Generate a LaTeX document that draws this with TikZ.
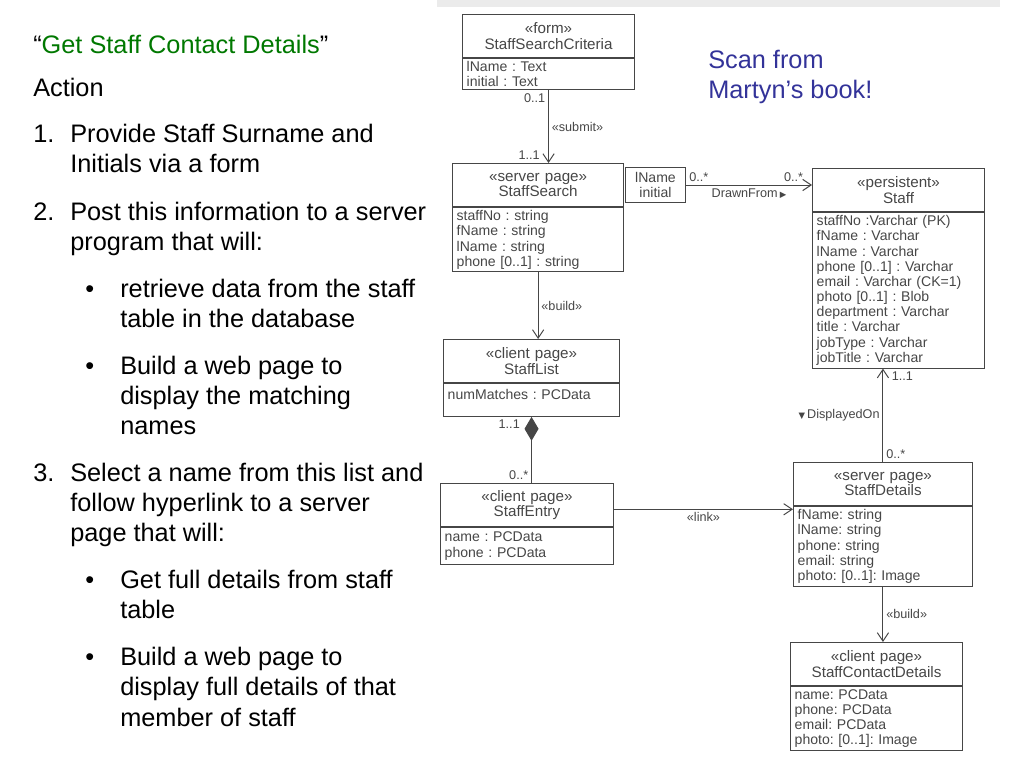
\documentclass[tikz,border=0pt]{standalone}
\usepackage{fontspec}
\setmainfont{Liberation Sans}
\newfontfamily\symf{DejaVu Sans}
\usetikzlibrary{arrows.meta}
\definecolor{titlegreen}{RGB}{0,120,0}
\definecolor{scanblue}{RGB}{51,51,153}
\definecolor{scanink}{RGB}{70,70,70}
\newcommand{\umlf}{\fontsize{10}{10.8}\selectfont\frenchspacing}
\newcommand{\umlhf}{\fontsize{10.8}{11}\selectfont\frenchspacing}
\newcommand{\bigf}{\fontsize{18}{21.6}\selectfont}

\begin{document}
\begin{tikzpicture}[x=0.025cm,y=-0.025cm,>={Straight Barb[length=6pt,width=8pt]},
  txt/.style={anchor=north west,align=left,inner sep=0pt,font=\bigf},
  hd/.style={draw=scanink,line width=0.7pt,anchor=north west,align=center,text width=#1,inner xsep=3pt,inner ysep=0pt,minimum height=1.08cm,text=scanink,font=\umlhf},
  at/.style={draw=scanink,line width=0.7pt,anchor=north,align=left,text width=#1,inner xsep=3pt,inner ysep=2pt,text=scanink,font=\umlf},
  lnk/.style={draw=scanink,line width=0.7pt},
  lbl/.style={font=\fontsize{9}{10}\selectfont,text=scanink,inner sep=2pt}]
\useasboundingbox (0,0) rectangle (1024,768);
\fill[black!8] (437,0) rectangle (1000,7);
% left column
\node[txt] (ttl) at (33,31.7) {\strut``\textcolor{titlegreen}{Get Staff Contact Details}''};
\node[txt] (act) at (33,74.7) {\strut Action};
\node[txt] (n1) at (33,120.7) {\strut 1.};
\node[txt] (i1) at (70,120.7) {\strut Provide Staff Surname and\\Initials via a form};
\node[txt] (n2) at (33,198.7) {\strut 2.};
\node[txt] (i2) at (70,198.7) {\strut Post this information to a server\\program that will:};
\node[txt] (d1) at (85,275.7) {\strut •};
\node[txt] (b1) at (120,275.7) {\strut retrieve data from the staff\\table in the database};
\node[txt] (d2) at (85,352.7) {\strut •};
\node[txt] (b2) at (120,352.7) {\strut Build a web page to\\display the matching\\names};
\node[txt] (n3) at (33,459.7) {\strut 3.};
\node[txt] (i3) at (70,459.7) {\strut Select a name from this list and\\follow hyperlink to a server\\page that will:};
\node[txt] (d3) at (85,566.7) {\strut •};
\node[txt] (b3) at (120,566.7) {\strut Get full details from staff\\table};
\node[txt] (d4) at (85,643.7) {\strut •};
\node[txt] (b4) at (120,643.7) {\strut Build a web page to\\display full details of that\\member of staff};
\node[txt,text=scanblue] (scan) at (708,46.7) {\strut Scan from\\Martyn’s book!};
% classes
\node[hd=4.09cm] (sscH) at (462,14) {«form»\\StaffSearchCriteria};
\node[at=4.09cm] (sscA) at (sscH.south) {lName : Text\\initial : Text};
\node[hd=4.07cm] (ssH) at (452,163) {«server page»\\StaffSearch};
\node[at=4.07cm] (ssA) at (ssH.south) {staffNo : string\\fName : string\\lName : string\\phone [0..1] : string};
\node[draw=scanink,line width=0.7pt,anchor=north west,align=center,minimum width=1.5cm,minimum height=0.875cm,inner sep=1pt,text=scanink,font=\umlf] (q) at (625,167) {lName\\initial};
\node[hd=4.09cm] (stH) at (812,168) {«persistent»\\Staff};
\node[at=4.09cm] (stA) at (stH.south) {staffNo :Varchar (PK)\\fName : Varchar\\lName : Varchar\\phone [0..1] : Varchar\\email : Varchar (CK=1)\\photo [0..1] : Blob\\department : Varchar\\title : Varchar\\jobType : Varchar\\jobTitle : Varchar};
\node[hd=4.19cm] (slH) at (443,339) {«client page»\\StaffList};
\node[at=4.19cm,inner ysep=4pt,text depth=8pt] (slA) at (slH.south) {numMatches : PCData};
\node[hd=4.11cm] (seH) at (440,483) {«client page»\\StaffEntry};
\node[at=4.11cm,minimum height=0.92cm] (seA) at (seH.south) {name : PCData\\phone : PCData};
\node[hd=4.26cm] (sdH) at (793,462) {«server page»\\StaffDetails};
\node[at=4.26cm] (sdA) at (sdH.south) {fName: string\\lName: string\\phone: string\\email: string\\photo: [0..1]: Image};
\node[hd=4.09cm] (ctH) at (790,642) {«client page»\\StaffContactDetails};
\node[at=4.09cm] (ctA) at (ctH.south) {name: PCData\\phone: PCData\\email: PCData\\photo: [0..1]: Image};
% connectors
\draw[lnk,->] (sscA.south) -- node[lbl,right]{«submit»} node[lbl,pos=0,anchor=north east]{0..1} node[lbl,pos=1,anchor=south east,xshift=-4pt]{1..1} (sscA.south |- ssH.north);
\draw[lnk,->] (q.east) -- node[lbl,pos=0,anchor=south west]{0..*} node[lbl,pos=1,anchor=south east,xshift=-4pt]{0..*} node[lbl,below]{DrawnFrom\,{\symf\fontsize{6}{6}\selectfont ▶}} (q.east -| stH.west);
\draw[lnk,->] (ssA.south) -- node[lbl,right]{«build»} (ssA.south |- slH.north);
\draw[lnk,{Diamond[length=17pt,width=10pt]}-] (slA.south) -- node[lbl,pos=0,anchor=north east,xshift=-6pt]{1..1} node[lbl,pos=1,anchor=south east]{0..*} (slA.south |- seH.north);
\draw[lnk,->] ([yshift=-3pt]seH.east) -- node[lbl,below]{«link»} ([yshift=-3pt]seH.east -| sdH.west);
\draw[lnk,->] (sdH.north) -- node[lbl,pos=0,anchor=south west]{0..*} node[lbl,pos=1,anchor=north west,xshift=4pt]{1..1} node[lbl,left]{{\symf\fontsize{6}{6}\selectfont ▼}\,DisplayedOn} (sdH.north |- stA.south);
\draw[lnk,->] (sdA.south) -- node[lbl,right]{«build»} (sdA.south |- ctH.north);
\end{tikzpicture}
\end{document}
